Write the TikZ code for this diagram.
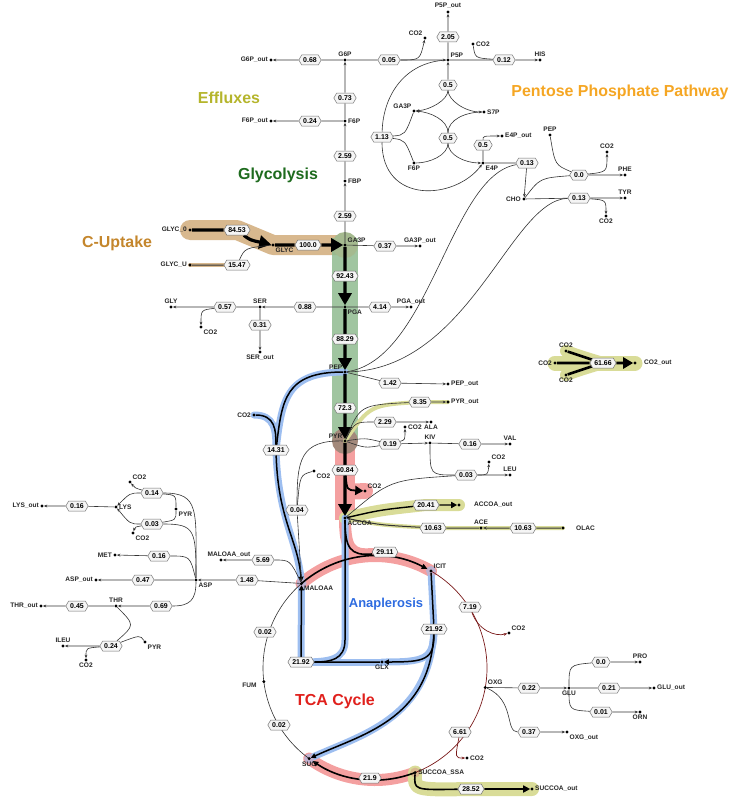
\documentclass[tikz,border=0pt]{standalone}
\usepackage{fontspec}
\setmainfont{Liberation Sans}
\usetikzlibrary{shapes.symbols,arrows.meta,calc}
\definecolor{tanH}{HTML}{D8B88E}
\definecolor{greenH}{HTML}{8FBB8F}
\definecolor{pinkH}{HTML}{F4A0A0}
\definecolor{blueH}{HTML}{9DBEF0}
\definecolor{yelH}{HTML}{D9DC98}
\definecolor{tcared}{HTML}{7A1A1A}
\definecolor{tEff}{HTML}{B5B52C}
\definecolor{tPPP}{HTML}{F5A623}
\definecolor{tGly}{HTML}{1E6B1E}
\definecolor{tCU}{HTML}{C4862C}
\definecolor{tAna}{HTML}{2D6BE0}
\definecolor{tTCA}{HTML}{E0201C}
\pgfdeclarelayer{halo}\pgfdeclarelayer{edge}
\pgfsetlayers{halo,edge,main}
\begin{document}
\begin{tikzpicture}[x=1bp,y=-1bp,
 dot/.style={circle,fill=black,inner sep=0,minimum size=3.2bp},
 lab/.style={font=\bfseries\fontsize{6.6}{7}\selectfont,inner sep=1.2bp,text=black!85},
 flux/.style={signal,signal to=east and west,signal pointer angle=120,draw=black!55,fill=black!4,
   font=\bfseries\fontsize{7}{8}\selectfont,inner xsep=1.5bp,inner ysep=0.8bp,minimum height=10bp,line width=0.5bp},
 ln/.style={black!80,line width=0.6bp},
 ar/.style={ln,-{Stealth[length=3.5bp,width=2.8bp]}},
 big/.style={black,line width=3.2bp,-{Triangle[length=12bp,width=13bp]}},
 tca/.style={tcared,line width=0.7bp},
 halo/.style={line width=#1,line cap=round,line join=round},
 ttl/.style={font=\bfseries\fontsize{16}{18}\selectfont},
 every label/.style={lab}]
\useasboundingbox (0,0) rectangle (737,800);
% titles
\node[ttl,text=tEff] at (229,98) {Effluxes};
\node[ttl,text=tPPP] at (620,92) {Pentose Phosphate Pathway};
\node[ttl,text=tGly] at (278,175) {Glycolysis};
\node[ttl,text=tCU] at (117,243) {C-Uptake};
\node[font=\bfseries\fontsize{13}{15}\selectfont,text=tAna] at (386,604) {Anaplerosis};
\node[ttl,text=tTCA] at (335,701) {TCA Cycle};
% metabolite dots
\node[dot,label={[lab]above:G6P}] (G6P) at (345,60) {};
\node[dot,label={[lab]left:G6P\_out}] (G6Pout) at (271,60) {};
\node[dot,label={[lab]above right:P5P}] (P5P) at (448,60) {};
\node[dot,label={[lab]above left:CO2}] (CO2a) at (425,38) {};
\node[dot,label={[lab]above:P5P\_out}] (P5Pout) at (448,12) {};
\node[dot,label={[lab]above:HIS}] (HIS) at (540,60) {};
\node[dot,label={[lab]right:CO2}] (CO2b) at (473,44) {};
\node[dot,label={[lab]right:F6P}] (F6P) at (345,121) {};
\node[dot,label={[lab]left:F6P\_out}] (F6Pout) at (271,121) {};
\node[dot,label={[lab]right:FBP}] (FBP) at (345,181) {};
\node[dot,label={[lab]above right:GA3P}] (GA3P) at (345,245) {};
\node[dot,label={[lab]above:GA3P\_out}] (GA3Pout) at (420,246) {};
\node[dot,label={[lab]above left:GA3P}] (GA3Pb) at (414,111) {};
\node[dot,label={[lab]right:S7P}] (S7P) at (484,112) {};
\node[dot,label={[lab]below:F6P}] (F6Pb) at (414,163) {};
\node[dot,label={[lab]below right:E4P}] (E4P) at (483,163) {};
\node[dot,label={[lab]right:E4P\_out}] (E4Pout) at (502,136) {};
\node[dot,label={[lab]above:PEP}] (PEPr) at (550,135) {};
\node[dot,label={[lab]above:CO2}] (CO2c) at (607,152) {};
\node[dot,label={[lab]above:PHE}] (PHE) at (625,175) {};
\node[dot,label={[lab]left:CHO}] (CHO) at (524,199) {};
\node[dot,label={[lab]above:TYR}] (TYR) at (625,198) {};
\node[dot,label={[lab]below:CO2}] (CO2d) at (606,216) {};
\node[dot,label={[lab]left:GLYC\_0}] (GLYC0) at (190,230) {};
\node[dot,label={[lab]left:GLYC\_U}] (GLYCU) at (190,265) {};
\node[dot,label={[lab]below right:GLYC}] (GLYC) at (273,245) {};
\node[dot,label={[lab]above:GLY}] (GLY) at (171,307) {};
\node[dot,label={[lab]above:SER}] (SER) at (260,307) {};
\node[dot,label={[lab]below right:PGA}] (PGA) at (345,307) {};
\node[dot,label={[lab]above:PGA\_out}] (PGAout) at (411,307) {};
\node[dot,label={[lab]below right:CO2}] (CO2e) at (201,327) {};
\node[dot,label={[lab]below:SER\_out}] (SERout) at (260,352) {};
\node[dot,label={[lab]above left:PEP}] (PEP) at (345,372) {};
\node[dot,label={[lab]right:PEP\_out}] (PEPout) at (448,384) {};
\node[dot,label={[lab]right:PYR\_out}] (PYRout) at (448,402) {};
\node[dot,label={[lab]left:CO2}] (CO2f) at (254,415) {};
\node[dot,label={[lab]above left:PYR}] (PYR) at (345,441) {};
\node[dot,label={[lab]below:ALA}] (ALA) at (431,422) {};
\node[dot,label={[lab]right:CO2}] (CO2g) at (405,427) {};
\node[dot,label={[lab]above:KIV}] (KIV) at (430,443) {};
\node[dot,label={[lab]above:VAL}] (VAL) at (510,444) {};
\node[dot,label={[lab]above right:CO2}] (CO2h) at (489,462) {};
\node[dot,label={[lab]above:LEU}] (LEU) at (510,475) {};
\node[dot,label={[lab]below right:CO2}] (CO2i) at (314,471) {};
\node[dot,label={[lab]above right:CO2}] (CO2j) at (365,491) {};
\node[dot,label={[lab]below right:ACCOA}] (ACCOA) at (345,518) {};
\node[dot,label={[lab,xshift=12bp]right:ACCOA\_out}] (ACCOAout) at (459,505) {};
\node[dot,label={[lab]above:ACE}] (ACE) at (481,528) {};
\node[dot,label={[lab,xshift=10bp]right:OLAC}] (OLAC) at (563,528) {};
\node[dot,label={[lab]left:LYS\_out}] (LYSout) at (42,506) {};
\node[dot,label={[lab]right:LYS}] (LYS) at (116,507) {};
\node[dot,label={[lab]above right:CO2}] (CO2k) at (130,482) {};
\node[dot,label={[lab]below right:PYR}] (PYRb) at (176,509) {};
\node[dot,label={[lab]below right:CO2}] (CO2l) at (133,533) {};
\node[dot,label={[lab]left:MET}] (MET) at (115,555) {};
\node[dot,label={[lab]left:ASP\_out}] (ASPout) at (96,580) {};
\node[dot,label={[lab]below right:ASP}] (ASP) at (196,580) {};
\node[dot,label={[lab,xshift=8bp]above:MALOAA\_out}] (MALOAAout) at (221,560) {};
\node[dot,label={[lab]left:THR\_out}] (THRout) at (41,606) {};
\node[dot,label={[lab]above:THR}] (THR) at (116,606) {};
\node[dot,label={[lab]above:ILEU}] (ILEU) at (63,646) {};
\node[dot,label={[lab]below right:PYR}] (PYRc) at (145,642) {};
\node[dot,label={[lab]below:CO2}] (CO2m) at (86,660) {};
% TCA circle nodes (center 375,668 r 112)
\coordinate (C) at (375,668);
\node[dot,label={[lab]below right:MALOAA}] (MALOAA) at ($(C)+(-131:112)$) {};
\node[dot,label={[lab]above right:ICIT}] (ICIT) at ($(C)+(-60:112)$) {};
\node[dot,label={[lab]above right:OXG}] (OXG) at ($(C)+(10:112)$) {};
\node[dot,label={[lab]right:SUCCOA\_SSA}] (SUCCOA) at ($(C)+(69:112)$) {};
\node[dot,label={[lab]below:SUC}] (SUC) at ($(C)+(126:112)$) {};
\node[dot,label={[lab,xshift=-4bp,yshift=-4bp]left:FUM}] (FUM) at ($(C)+(173:112)$) {};
\node[dot,label={[lab]below:GLX}] (GLX) at (382,662) {};
\node[dot,label={[lab]below:GLU}] (GLU) at (569,688) {};
\node[dot,label={[lab]above:PRO}] (PRO) at (640,662) {};
\node[dot,label={[lab]right:GLU\_out}] (GLUout) at (654,688) {};
\node[dot,label={[lab]below:ORN}] (ORN) at (640,712) {};
\node[dot,label={[lab]below right:OXG\_out}] (OXGout) at (567,732) {};
\node[dot,label={[lab]above right:CO2}] (CO2n) at (509,633) {};
\node[dot,label={[lab]right:CO2}] (CO2o) at (467,758) {};
\node[dot,label={[lab]right:SUCCOA\_out}] (SUCCOAout) at (532,789) {};
\node[dot,label={[lab]left:CO2}] (CO2L) at (555,363) {};
\node[dot,label={[lab]above:CO2}] (CO2T) at (566,351) {};
\node[dot,label={[lab]below:CO2}] (CO2B) at (566,375) {};
\node[dot,label={[lab,xshift=6bp]right:CO2\_out}] (CO2out) at (635,363) {};
% flux nodes
\node[flux] (f068) at (310,60) {0.68};
\node[flux] (f005) at (389,60) {0.05};
\node[flux] (f205) at (448,37) {2.05};
\node[flux] (f012) at (504,60) {0.12};
\node[flux] (f073) at (345,98) {0.73};
\node[flux] (f024) at (310,121) {0.24};
\node[flux] (f259a) at (345,156) {2.59};
\node[flux] (f259b) at (345,216) {2.59};
\node[flux] (f05a) at (448,85) {0.5};
\node[flux] (f05b) at (448,138) {0.5};
\node[flux] (f113) at (382,137) {1.13};
\node[flux] (f05c) at (483,145) {0.5};
\node[flux] (f013a) at (527,163) {0.13};
\node[flux] (f00) at (579,175) {0.0};
\node[flux] (f013b) at (579,198) {0.13};
\node[flux] (f8453) at (237,230) {84.53};
\node[flux] (f1547) at (237,265) {15.47};
\node[flux] (f100) at (308,245) {100.0};
\node[flux] (f037) at (385,246) {0.37};
\node[flux] (f9243) at (345,276) {92.43};
\node[flux] (f057) at (225,307) {0.57};
\node[flux] (f088) at (305,307) {0.88};
\node[flux] (f414) at (380,307) {4.14};
\node[flux] (f031) at (260,325) {0.31};
\node[flux] (f8829) at (345,339) {88.29};
\node[flux] (f142) at (390,383) {1.42};
\node[flux] (f723) at (345,408) {72.3};
\node[flux] (f835) at (420,402) {8.35};
\node[flux] (f1431) at (276,450) {14.31};
\node[flux] (f229) at (385,422) {2.29};
\node[flux] (f019) at (390,444) {0.19};
\node[flux] (f016v) at (470,444) {0.16};
\node[flux] (f003l) at (466,475) {0.03};
\node[flux] (f6084) at (345,470) {60.84};
\node[flux] (f004) at (297,510) {0.04};
\node[flux] (f2041) at (426,505) {20.41};
\node[flux] (f1063a) at (433,528) {10.63};
\node[flux] (f1063b) at (523,528) {10.63};
\node[flux] (f6166) at (603,363) {61.66};
\node[flux] (f016l) at (77,506) {0.16};
\node[flux] (f014) at (152,493) {0.14};
\node[flux] (f003k) at (152,524) {0.03};
\node[flux] (f016m) at (159,556) {0.16};
\node[flux] (f047) at (143,580) {0.47};
\node[flux] (f148) at (247,580) {1.48};
\node[flux] (f569) at (263,560) {5.69};
\node[flux] (f045) at (77,606) {0.45};
\node[flux] (f069) at (161,606) {0.69};
\node[flux] (f024i) at (111,646) {0.24};
\node[flux] (f2911) at (385,552) {29.11};
\node[flux] (f719) at (470,607) {7.19};
\node[flux] (f2192r) at (434,629) {21.92};
\node[flux] (f2192l) at (301,662) {21.92};
\node[flux] (f002a) at (265,632) {0.02};
\node[flux] (f002b) at (279,725) {0.02};
\node[flux] (f022) at (529,688) {0.22};
\node[flux] (f00p) at (601,662) {0.0};
\node[flux] (f021) at (609,688) {0.21};
\node[flux] (f001) at (601,712) {0.01};
\node[flux] (f037o) at (529,732) {0.37};
\node[flux] (f661) at (460,732) {6.61};
\node[flux] (f219) at (370,778) {21.9};
\node[flux] (f2852) at (471,789) {28.52};
% halos
\begin{pgfonlayer}{halo}
\draw[tanH,halo=20bp] (GLYC0.center) -- (f8453.center) -- (GLYC.center) -- (GA3P.center);
\draw[tanH,halo=4bp] (GLYCU.center) -- (f1547.center);
\draw[greenH,opacity=0.85,halo=26bp,line cap=butt] (345,238) -- (345,441);
\fill[greenH!70!tanH] (GA3P) circle (13bp);
\draw[pinkH,halo=20bp,line cap=butt] (345,441) -- (345,520);
\fill[pinkH!60!greenH!80!black] (PYR) circle (13bp);
\draw[pinkH,halo=16bp] (345,478) .. controls (347,492) .. (CO2j.center);
\draw[pinkH,halo=12bp] (ACCOA.center) .. controls (345,548) and (350,556) .. (372,554);
\draw[pinkH,halo=12bp] (MALOAA.center) arc[start angle=-131,end angle=-60,radius=112];
\draw[pinkH,halo=12bp] (SUCCOA.center) arc[start angle=69,end angle=126,radius=112];
\draw[yelH,halo=12bp] (ACCOA.center) .. controls (380,510) .. (f2041.center) -- (ACCOAout.center);
\draw[yelH,halo=4bp] (ACCOA.center) .. controls (380,525) .. (f1063a.center) -- (OLAC.center);
\draw[yelH,halo=4bp] (PYR.center) .. controls (370,405) .. (f835.center) -- (PYRout.center);
\draw[yelH,halo=14bp] (SUCCOA.center) .. controls (414,790) .. (f2852.center) -- (SUCCOAout.center);
\draw[yelH,halo=15bp] (CO2L.center) -- (CO2out.center);
\draw[yelH,halo=12bp] (CO2T.center) .. controls (580,356) .. (f6166.center);
\draw[yelH,halo=12bp] (CO2B.center) .. controls (580,370) .. (f6166.center);
\begin{scope}[blueH,halo=7bp]
\draw (PEP.center) .. controls (285,372) and (282,400) .. (f1431.center) .. controls (278,520) and (298,540) .. (MALOAA.center);
\draw (CO2f.center) .. controls (275,415) and (276,430) .. (f1431.center);
\draw (ACCOA.center) -- (345,640) .. controls (345,660) and (330,662) .. (f2192l.center) -- (MALOAA.center);
\draw (f2192l.center) -- (GLX.center);
\draw (ICIT.center) -- (f2192r.center) .. controls (434,660) and (425,662) .. (GLX.center);
\draw (f2192r.center) .. controls (430,720) and (360,735) .. (SUC.center);
\end{scope}
\fill[blueH!60!pinkH] (MALOAA) circle (5bp) (ICIT) circle (5bp) (SUC) circle (5bp);
\fill[tanH] (SUCCOA) circle (5bp);
\end{pgfonlayer}
% edges
\begin{pgfonlayer}{edge}
\draw[ar] (GA3P) -- (f259b) -- (FBP);
\draw[ar] (FBP) -- (f259a) -- (F6P);
\draw[ar] (F6P) -- (f073) -- (G6P);
\draw[ar] (G6P) -- (f068) -- (G6Pout);
\draw[ar] (F6P) -- (f024) -- (F6Pout);
\draw[ar] (G6P) -- (f005) -- (P5P);
\draw[ar] (f005) .. controls (420,60) .. (CO2a);
\draw[ar] (P5P) -- (f205) -- (P5Pout);
\draw[ar] (P5P) -- (f012) -- (HIS);
\draw[ln] (CO2b) .. controls (475,58) .. (f012);
\draw[ar] (f05a) -- (P5P);
\draw[ar] (f05a) .. controls (448,100) and (430,110) .. (GA3Pb);
\draw[ar] (f05a) .. controls (448,100) and (465,112) .. (S7P);
\draw[ar] (f05b) .. controls (448,120) and (430,112) .. (GA3Pb);
\draw[ln] (f05b) .. controls (448,120) and (465,112) .. (S7P);
\draw[ln] (f05b) .. controls (448,155) and (430,163) .. (F6Pb);
\draw[ar] (f05b) .. controls (448,155) and (465,163) .. (E4P);
\draw[ln] (f113) .. controls (405,135) .. (GA3Pb);
\draw[ln] (f113) .. controls (405,140) .. (F6Pb);
\draw[ar] (P5P) .. controls (405,62) and (383,95) .. (f113) .. controls (382,205) and (455,200) .. (E4P);
\draw[ln] (E4P) -- (f05c);
\draw[ar] (f05c) .. controls (483,136) .. (E4Pout);
\draw[ln] (E4P) -- (f013a);
\draw[ar] (f013a) -- (CHO);
\draw[ln] (PEP) .. controls (430,360) and (450,175) .. (f013a);
\draw[ln] (PEP) .. controls (470,370) and (510,200) .. (f013b);
\draw[ln] (CHO) .. controls (540,178) .. (f00);
\draw[ln] (PEPr) .. controls (555,165) .. (f00);
\draw[ar] (f00) -- (PHE);
\draw[ar] (f00) .. controls (607,172) .. (CO2c);
\draw[ar] (CHO) -- (f013b) -- (TYR);
\draw[ar] (f013b) .. controls (606,200) .. (CO2d);
% C uptake and glycolysis
\draw[black,line width=3.2bp] (GLYC0) -- (f8453);
\draw[big] (f8453) .. controls (250,240) .. (GLYC);
\draw[ln,line width=1bp] (GLYCU) -- (f1547);
\draw[ln] (f1547) .. controls (245,248) .. (GLYC);
\draw[black,line width=3.2bp] (GLYC) -- (f100);
\draw[big] (f100) -- (GA3P);
\draw[ar] (GA3P) -- (f037) -- (GA3Pout);
\draw[black,line width=3.2bp] (GA3P) -- (f9243);
\draw[big] (f9243) -- (PGA);
\draw[ar] (PGA) -- (f088) -- (SER);
\draw[ar] (SER) -- (f057) -- (GLY);
\draw[ar] (f057) .. controls (201,310) .. (CO2e);
\draw[ar] (SER) -- (f031) -- (SERout);
\draw[ar] (PGA) -- (f414) -- (PGAout);
\draw[black,line width=3.2bp] (PGA) -- (f8829);
\draw[big] (f8829) -- (PEP);
\draw[ln] (PEP) -- (f142);
\draw[ar] (f142) -- (PEPout);
\draw[black,line width=3.2bp] (PEP) -- (f723);
\draw[big] (f723) -- (PYR);
\draw[ln] (PYR) .. controls (360,405) .. (f835);
\draw[ar] (f835) -- (PYRout);
\draw[ln] (PYR) .. controls (355,422) .. (f229);
\draw[ar] (f229) -- (ALA);
\draw[ln] (PYR) .. controls (365,438) .. (f019);
\draw[ln] (PYR) .. controls (365,448) .. (f019);
\draw[ar] (f019) .. controls (405,440) .. (CO2g);
\draw[ar] (f019) -- (KIV);
\draw[ar] (KIV) -- (f016v) -- (VAL);
\draw[ln] (KIV) .. controls (430,475) .. (f003l);
\draw[ln] (ACCOA) .. controls (390,480) .. (f003l);
\draw[ar] (f003l) -- (LEU);
\draw[ar] (f003l) .. controls (488,475) .. (CO2h);
\draw[black,line width=3.2bp] (PYR) -- (f6084);
\draw[big] (f6084) -- (ACCOA);
\draw[black,line width=1.8bp,-{Triangle[length=8bp,width=9bp]}] (f6084) .. controls (347,490) .. (CO2j);
\draw[black,line width=1.4bp] (ACCOA) .. controls (380,510) .. (f2041);
\draw[black,line width=1.4bp,-{Triangle[length=6bp,width=6bp]}] (f2041) -- (ACCOAout);
\draw[ln,line width=1bp,-{Stealth[length=4bp]}] (f1063a) .. controls (380,525) .. (ACCOA);
\draw[ln,line width=1bp] (ACE) -- (f1063a);
\draw[ln,line width=1bp,-{Stealth[length=4bp]}] (f1063b) -- (ACE);
\draw[ln,line width=1bp] (OLAC) -- (f1063b);
\draw[black,line width=2.6bp] (CO2L) -- (f6166);
\draw[black,line width=2.6bp] (CO2T) .. controls (580,356) .. (f6166);
\draw[black,line width=2.6bp] (CO2B) .. controls (580,370) .. (f6166);
\draw[black,line width=2.6bp,-{Triangle[length=10bp,width=11bp]}] (f6166) -- (CO2out);
% anaplerosis
\begin{scope}[black,line width=1.5bp]
\draw (PEP) .. controls (285,372) and (282,400) .. (f1431);
\draw (CO2f) .. controls (275,415) and (276,430) .. (f1431);
\draw[-{Triangle[length=5bp,width=5bp]}] (f1431) .. controls (278,520) and (298,540) .. (MALOAA);
\draw (ACCOA) -- (345,640) .. controls (345,660) and (330,662) .. (f2192l);
\draw[-{Triangle[length=5bp,width=5bp]}] (f2192l) -- (MALOAA);
\draw[-{Triangle[length=5bp,width=5bp]}] (ICIT) -- (f2192r) .. controls (434,660) and (425,662) .. (GLX);
\draw (GLX) -- (f2192l);
\draw[-{Triangle[length=5bp,width=5bp]}] (f2192r) .. controls (430,720) and (360,735) .. (SUC);
\end{scope}
\draw[ln] (PYR) .. controls (300,440) and (297,460) .. (f004);
\draw[ln] (CO2i) .. controls (300,475) .. (f004);
\draw[ar] (f004) -- (MALOAA);
\draw[ar] (MALOAA) -- (f148) -- (ASP);
\draw[ar] (MALOAA) .. controls (290,560) .. (f569) -- (MALOAAout);
\draw[ar] (ASP) -- (f047) -- (ASPout);
\draw[ar] (ASP) .. controls (190,556) .. (f016m) -- (MET);
\draw[ln] (ASP) .. controls (196,530) and (195,524) .. (f003k);
\draw[ln] (ASP) .. controls (196,510) and (200,493) .. (f014);
\draw[ar] (ASP) .. controls (196,600) and (190,606) .. (f069) -- (THR);
\draw[ar] (f014) .. controls (130,493) .. (LYS);
\draw[ar] (f003k) .. controls (130,524) .. (LYS);
\draw[ln] (f014) .. controls (176,495) .. (PYRb) .. controls (176,520) .. (f003k);
\draw[ar] (f014) .. controls (135,488) .. (CO2k);
\draw[ar] (f003k) .. controls (135,527) .. (CO2l);
\draw[ar] (LYS) -- (f016l) -- (LYSout);
\draw[ar] (THR) -- (f045) -- (THRout);
\draw[ln] (THR) .. controls (135,625) .. (f024i);
\draw[ln] (PYRc) .. controls (140,635) .. (f024i);
\draw[ar] (f024i) -- (ILEU);
\draw[ar] (f024i) .. controls (86,648) .. (CO2m);
% TCA
\draw[black,line width=1.6bp] (ACCOA) .. controls (345,548) and (350,556) .. (372,554);
\draw[black,line width=1.6bp,-{Triangle[length=6bp,width=5bp]}] (MALOAA.center) arc[start angle=-131,end angle=-62,radius=112];
\draw[tca] (ICIT.center) arc[start angle=-60,end angle=10,radius=112];
\draw[tca,-{Stealth[length=3.5bp]}] (f719) .. controls (478,630) and (495,637) .. (CO2n);
\draw[tca] (OXG.center) arc[start angle=10,end angle=69,radius=112];
\draw[tca,-{Stealth[length=3.5bp]}] (f661) .. controls (455,758) .. (CO2o);
\draw[black,line width=1.6bp,-{Triangle[length=6bp,width=5bp]}] (SUCCOA.center) arc[start angle=69,end angle=124,radius=112];
\draw[ln] (SUC.center) arc[start angle=126,end angle=229,radius=112];
\draw[black,line width=1.6bp] (SUCCOA) .. controls (414,790) .. (f2852);
\draw[black,line width=1.6bp,-{Triangle[length=7bp,width=7bp]}] (f2852) -- (SUCCOAout);
\draw[ar] (OXG) -- (f022) -- (GLU);
\draw[ar] (OXG) .. controls (515,700) and (505,732) .. (f037o) -- (OXGout);
\draw[ln] (GLU) .. controls (569,665) .. (f00p);
\draw[ar] (f00p) -- (PRO);
\draw[ar] (GLU) -- (f021) -- (GLUout);
\draw[ln] (GLU) .. controls (569,710) .. (f001);
\draw[ar] (f001) -- (ORN);
\end{pgfonlayer}
\end{tikzpicture}
\end{document}
